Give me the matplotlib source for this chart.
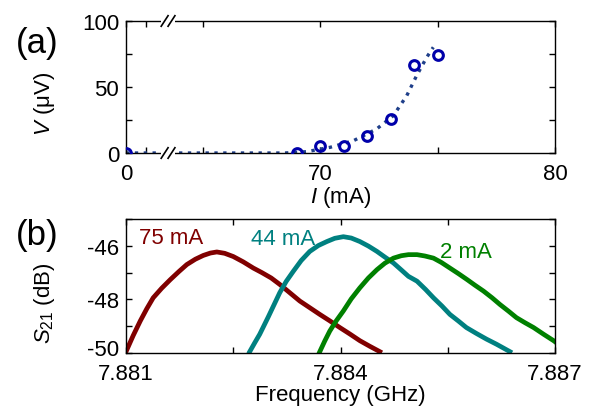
import numpy as np
import matplotlib
matplotlib.use('Agg')
import matplotlib.pyplot as plt
import matplotlib.transforms as mtransforms
from matplotlib.ticker import FixedLocator

plt.rcParams['font.family'] = ['Liberation Sans', 'DejaVu Sans']
plt.rcParams['mathtext.fontset'] = 'custom'
plt.rcParams['mathtext.rm'] = 'Liberation Sans'
plt.rcParams['mathtext.it'] = 'Liberation Sans:italic'

# ---------------- data panel (a) ----------------
I_meas = [0, 69, 70, 71, 72, 73, 74, 75]
V_meas = [0, 0, 5.0, 5.6, 13.1, 25.8, 66.7, 74.2]
I_fit = [0, 68.5, 69.43, 70.43, 71.42, 72.41, 73.12, 73.69, 74.11, 74.54, 74.82]
V_fit = [0, 0, 1.0, 4.3, 9.3, 18.2, 28.3, 43.4, 58.6, 72.5, 80.1]

# broken axis: 0..10.5 compressed, 63.53..80 expanded
brk_I = [0, 10.5, 63.53, 80]
brk_u = [0, 42, 42.0001, 429]

# ---------------- data panel (b) ----------------
f75 = [7.88100, 7.88110, 7.88120, 7.88129, 7.88138, 7.88150, 7.88162, 7.88174,
       7.88185, 7.88197, 7.88208, 7.88218, 7.88227, 7.88238, 7.88250, 7.88264,
       7.88278, 7.88290, 7.88303, 7.88315, 7.88329, 7.88343, 7.88357, 7.88371,
       7.88385, 7.88399, 7.88413, 7.88427, 7.88441, 7.88455]
s75 = [-49.95, -49.35, -48.80, -48.35, -47.94, -47.58, -47.26, -46.96,
       -46.70, -46.50, -46.36, -46.27, -46.23, -46.28, -46.40, -46.60,
       -46.83, -47.00, -47.20, -47.44, -47.75, -48.06, -48.31, -48.56,
       -48.80, -49.05, -49.29, -49.54, -49.75, -49.95]
f44 = [7.88273, 7.88280, 7.88287, 7.88299, 7.88315, 7.88324, 7.88334, 7.88345,
       7.88357, 7.88369, 7.88381, 7.88392, 7.88404, 7.88415, 7.88427, 7.88439,
       7.88451, 7.88462, 7.88474, 7.88485, 7.88495, 7.88507, 7.88519, 7.88530,
       7.88542, 7.88553, 7.88565, 7.88576, 7.88590, 7.88604, 7.88618, 7.88637]
s44 = [-49.95, -49.62, -49.30, -48.65, -47.75, -47.33, -46.95, -46.55,
       -46.21, -45.99, -45.84, -45.72, -45.66, -45.71, -45.84, -46.01,
       -46.21, -46.42, -46.64, -46.90, -47.14, -47.32, -47.63, -47.94,
       -48.25, -48.56, -48.81, -49.05, -49.27, -49.48, -49.67, -49.95]
f2 = [7.88371, 7.88378, 7.88385, 7.88394, 7.88404, 7.88415, 7.88427, 7.88439,
      7.88451, 7.88462, 7.88474, 7.88485, 7.88495, 7.88507, 7.88518, 7.88530,
      7.88541, 7.88553, 7.88565, 7.88577, 7.88588, 7.88600, 7.88612, 7.88623,
      7.88635, 7.88646, 7.88658, 7.88670, 7.88684, 7.88698, 7.88700]
s2 = [-49.95, -49.55, -49.18, -48.80, -48.43, -47.98, -47.57, -47.20,
      -46.89, -46.65, -46.46, -46.37, -46.33, -46.33, -46.38, -46.46,
      -46.62, -46.83, -47.04, -47.26, -47.47, -47.69, -47.94, -48.19,
      -48.44, -48.68, -48.87, -49.05, -49.30, -49.54, -49.58]

labels_b = ['75 mA', '44 mA', '2 mA']
label_pos_f = [7.88163, 7.88320, 7.88576]
label_pos_s = [-45.70, -45.74, -46.22]
colors_b = ['#800000', '#008080', '#008000']

fs = 16

fig = plt.figure(figsize=(5.9, 4.1), dpi=100)
axa = fig.add_axes([0.2136, 0.6244, 0.7271, 0.3220])
axb = fig.add_axes([0.2136, 0.1366, 0.7271, 0.3268])

def fwd(x):
    return np.interp(np.asarray(x, dtype=float), brk_I, brk_u)

def inv(u):
    return np.interp(np.asarray(u, dtype=float), brk_u, brk_I)

axa.set_xscale('function', functions=(fwd, inv))
axa.plot(I_fit, V_fit, ls=':', lw=2.4, color='#1f3f8a', zorder=2)
axa.plot(I_meas, V_meas, ls='none', marker='o', ms=7, mfc='none', mec='#0000aa', mew=2.2, zorder=3)
axa.set_xlim(0, 80)
axa.set_ylim(0, 100)
axa.xaxis.set_major_locator(FixedLocator([0, 5, 65, 70, 75, 80]))
axa.xaxis.set_minor_locator(FixedLocator([]))
axa.set_xticklabels(['0', '', '', '70', '', '80'])
axa.yaxis.set_major_locator(FixedLocator([0, 50, 100]))
axa.yaxis.set_minor_locator(FixedLocator([25, 75]))
axa.set_xlabel(r'$I$ (mA)', fontsize=fs, labelpad=0)
axa.set_ylabel(r'$V$ ($\mathrm{\mu}$V)', fontsize=fs)
axa.yaxis.set_label_coords(-0.161, 0.38)

# break marks
for yb in (0, 1):
    axa.plot([0.0825, 0.1140], [yb, yb], transform=axa.transAxes, color='white',
             lw=3, clip_on=False, zorder=10, solid_capstyle='butt')
    for xc in (0.0900, 0.1060):
        axa.plot([xc - 0.008, xc + 0.008], [yb - 0.04, yb + 0.04], transform=axa.transAxes,
                 color='black', lw=1.2, clip_on=False, zorder=11)

for f, s, c in zip([f75, f44, f2], [s75, s44, s2], colors_b):
    axb.plot(f, s, color=c, lw=3.4, solid_joinstyle='round')
for t, x, y, c in zip(labels_b, label_pos_f, label_pos_s, colors_b):
    axb.text(x, y, t, color=c, fontsize=fs, ha='center', va='center')
axb.set_xlim(7.881, 7.887)
axb.set_ylim(-50, -45)
axb.xaxis.set_major_locator(FixedLocator([7.881, 7.884, 7.887]))
axb.xaxis.set_minor_locator(FixedLocator([7.8825, 7.8855]))
axb.set_xticklabels(['7.881', '7.884', '7.887'])
axb.yaxis.set_major_locator(FixedLocator([-50, -48, -46]))
axb.yaxis.set_minor_locator(FixedLocator([-49, -47, -45]))
axb.set_yticklabels(['-50', '-48', '-46'])
axb.set_xlabel('Frequency (GHz)', fontsize=fs, labelpad=0)
axb.set_ylabel(r'$S_{21}$ (dB)', fontsize=fs)
axb.yaxis.set_label_coords(-0.161, 0.38)

for ax in (axa, axb):
    for sp in ax.spines.values():
        sp.set_linewidth(1.0)
    ax.tick_params(which='both', direction='in', top=True, right=True, length=4,
                   width=1.0, labelsize=fs)
    ax.tick_params(axis='y', pad=5)
    for lab in ax.get_yticklabels():
        lab.set_verticalalignment('center_baseline')
axa.tick_params(axis='x', pad=7)
axb.tick_params(axis='x', pad=7)

# nudge the lowest y label of (b) up slightly so it clears the x label
lab0 = axb.get_yticklabels()[0]
lab0.set_transform(lab0.get_transform() +
                   mtransforms.ScaledTranslation(0, 4 / 72, fig.dpi_scale_trans))

fig.text(0.063, 0.895, '(a)', fontsize=25, ha='center', va='center')
fig.text(0.063, 0.425, '(b)', fontsize=25, ha='center', va='center')

fig.savefig('out.png', dpi=100)
